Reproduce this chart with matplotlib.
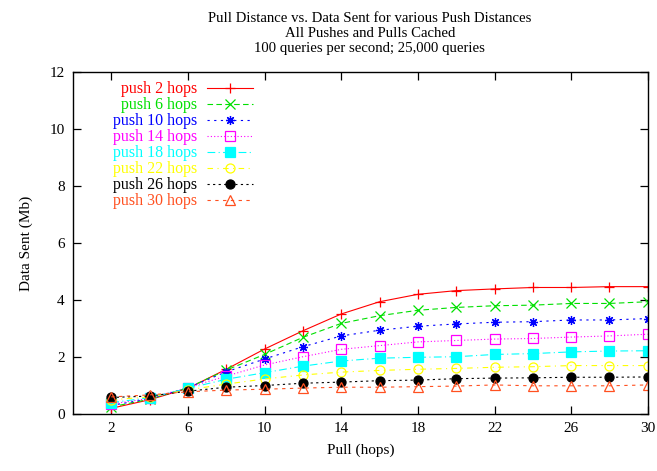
import numpy as np
import matplotlib.pyplot as plt

plt.rcParams['font.family'] = ['Liberation Serif', 'DejaVu Serif']

# Datos
pull = [2, 4, 6, 8, 10, 12, 14, 16, 18, 20, 22, 24, 26, 28, 30]
push2 = [0.20, 0.50, 0.90, 1.57, 2.28, 2.92, 3.51, 3.94, 4.20, 4.33, 4.39, 4.44, 4.44, 4.47, 4.47]
push6 = [0.25, 0.52, 0.92, 1.54, 2.09, 2.69, 3.18, 3.45, 3.64, 3.74, 3.80, 3.82, 3.88, 3.88, 3.94]
push10 = [0.30, 0.54, 0.92, 1.48, 1.93, 2.36, 2.74, 2.94, 3.08, 3.16, 3.22, 3.24, 3.30, 3.30, 3.35]
push14 = [0.35, 0.55, 0.93, 1.33, 1.72, 2.01, 2.27, 2.40, 2.53, 2.58, 2.63, 2.65, 2.70, 2.74, 2.80]
push18 = [0.40, 0.57, 0.90, 1.22, 1.45, 1.68, 1.86, 1.96, 1.99, 2.01, 2.09, 2.12, 2.18, 2.21, 2.22]
push22 = [0.50, 0.60, 0.85, 1.05, 1.23, 1.37, 1.47, 1.53, 1.57, 1.60, 1.64, 1.66, 1.70, 1.70, 1.70]
push26 = [0.58, 0.63, 0.80, 0.94, 1.00, 1.08, 1.12, 1.17, 1.19, 1.24, 1.26, 1.27, 1.29, 1.29, 1.30]
push30 = [0.60, 0.67, 0.78, 0.84, 0.87, 0.91, 0.94, 0.94, 0.96, 0.98, 1.02, 0.99, 0.99, 0.99, 1.02]

series = [push2, push6, push10, push14, push18, push22, push26, push30]
labels = ['push 2 hops', 'push 6 hops', 'push 10 hops', 'push 14 hops',
          'push 18 hops', 'push 22 hops', 'push 26 hops', 'push 30 hops']

# Estilo tipo gnuplot
colores = ['#ff0000', '#00e000', '#0000ff', '#ff00ff', '#00ffff', '#ffff00', '#000000', '#ff5020']
marcas = ['+', 'x', (8, 2, 0), 's', 's', 'o', 'o', '^']
relleno = [True, True, True, False, True, False, True, False]
guiones = [(None, None), (5, 3), (2, 4), (1, 2), (7, 3, 1, 3), (5, 4, 1, 4), (2, 3), (3, 4)]

fig = plt.figure(figsize=(6.57, 4.71), dpi=100)
ax = fig.add_axes([0.111, 0.121, 0.875, 0.726])

for y, lab, c, mk, fill, d in zip(series, labels, colores, marcas, relleno, guiones):
    ls = '-' if d[0] is None else (0, d)
    ax.plot(pull, y, linestyle=ls, color=c, lw=0.8, marker=mk, markersize=6.5,
            markerfacecolor=c if fill else 'none', markeredgecolor=c,
            markeredgewidth=0.9, label=lab)

ax.set_xlim(0, 30)
ax.set_ylim(0, 12)
ax.set_xticks(np.arange(2, 31, 4))
ax.set_yticks(np.arange(0, 13, 2))
ax.tick_params(direction='in', top=True, right=True, length=6, width=0.9, labelsize=11, pad=6)
for s in ax.spines.values():
    s.set_linewidth(1.0)

ax.set_xlabel('Pull (hops)', fontsize=11, labelpad=6)
ax.set_ylabel('Data Sent (Mb)', fontsize=11, labelpad=12)
fig.text(0.563, 0.975, 'Pull Distance vs. Data Sent for various Push Distances\n'
         'All Pushes and Pulls Cached\n100 queries per second; 25,000 queries',
         ha='center', va='top', fontsize=10.6, linespacing=1.2)

leg = ax.legend(loc='upper left', bbox_to_anchor=(0.05, 1.006), markerfirst=False, frameon=False,
                fontsize=11.5, handlelength=2.9, handletextpad=0.6, labelspacing=0.0,
                borderaxespad=0.3)
for t, c in zip(leg.get_texts(), colores):
    t.set_color(c)

fig.savefig('out.png', dpi=100)
